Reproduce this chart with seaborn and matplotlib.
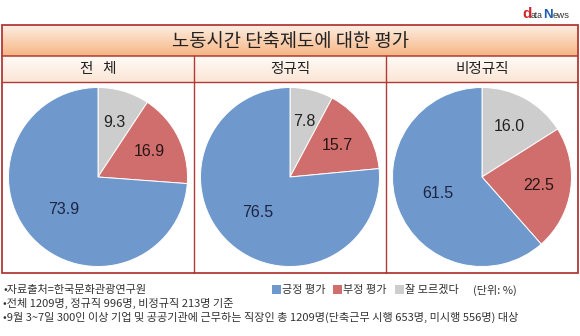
import numpy as np
import pandas as pd
import matplotlib
matplotlib.use("Agg")
import matplotlib.pyplot as plt
import seaborn as sns
from matplotlib.patches import Rectangle
from matplotlib.colors import LinearSegmentedColormap

# ---- data ----
title = "노동시간 단축제도에 대한 평가"
groups = ["전   체", "정규직", "비정규직"]
categories = ["긍정 평가", "부정 평가", "잘 모르겠다"]
positive = [73.9, 76.5, 61.5]
negative = [16.9, 15.7, 22.5]
unknown = [9.3, 7.8, 16.0]
unit_label = "(단위: %)"
notes = [
    "•자료출처=한국문화관광연구원",
    "•전체 1209명, 정규직 996명, 비정규직 213명 기준",
    "•9월 3~7일 300인 이상 기업 및 공공기관에 근무하는 직장인 총 1209명(단축근무 시행 653명, 미시행 556명) 대상",
]

df = pd.DataFrame({"group": groups, "긍정 평가": positive, "부정 평가": negative, "잘 모르겠다": unknown})

sns.set_theme(style="white")
plt.rcParams['font.family'] = ['Noto Sans CJK KR', 'DejaVu Sans']

palette = dict(zip(categories, sns.color_palette(["#6f98cc", "#cf6e6c", "#cdcdcd"])))
label_colors = {"긍정 평가": "#1c2544", "부정 평가": "#2a1616", "잘 모르겠다": "#222222"}

W, H = 580, 336
fig = plt.figure(figsize=(W / 100, H / 100), dpi=100)
fig.patch.set_facecolor("white")

bg = fig.add_axes([0, 0, 1, 1])
bg.set_xlim(0, W)
bg.set_ylim(H, 0)
bg.axis("off")

border = "#b23a36"
left, right = 2, 578
top, band_bot, sub_bot, bottom = 25, 56, 82, 273

def gradient(x0, x1, y0, y1, c_top, c_bot, z=0):
    cmap = LinearSegmentedColormap.from_list("g", [c_top, c_bot])
    g = np.linspace(0, 1, 64).reshape(-1, 1)
    bg.imshow(g, cmap=cmap, extent=[x0, x1, y1, y0], aspect="auto", zorder=z)

gradient(left, right, top, band_bot, "#fdeee2", "#f6b583")
gradient(left, right, band_bot, sub_bot, "#fffaf6", "#fbe6d6")
bg.set_xlim(0, W)
bg.set_ylim(H, 0)

bg.add_patch(Rectangle((left, top), right - left, bottom - top, fill=False, ec=border, lw=1.3, zorder=5))
bg.plot([left, right], [band_bot, band_bot], color=border, lw=1.1, zorder=5)
bg.plot([left, right], [sub_bot, sub_bot], color=border, lw=1.0, zorder=5)
panel_w = (right - left) / 3
for i in range(1, 3):
    x = left + panel_w * i
    bg.plot([x, x], [band_bot, bottom], color=border, lw=1.0, zorder=5)

bg.text(W / 2, (top + band_bot) / 2 + 1, title, ha="center", va="center", fontsize=13.5, color="#222222", zorder=6)

for i, g in enumerate(groups):
    cx = left + panel_w * (i + 0.5)
    bg.text(cx, (band_bot + sub_bot) / 2 + 0.5, g, ha="center", va="center", fontsize=10.5, color="#222222", zorder=6)

# logo
bg.text(522, 18, "d", fontsize=11, fontweight="bold", color="#d0262a", ha="left", va="baseline", family="Liberation Sans")
bg.text(530.5, 18, "ata", fontsize=6.2, color="#333333", ha="left", va="baseline", family="Liberation Sans")
bg.text(543, 18, "N", fontsize=9.5, fontweight="bold", color="#1f5fb0", ha="left", va="baseline", family="Liberation Sans")
bg.text(553, 18, "ews", fontsize=6.8, color="#333333", ha="left", va="baseline", family="Liberation Sans")

# pies
R = 89.5
cy = 177
for i, row in df.iterrows():
    cx = left + panel_w * (i + 0.5)
    ax = fig.add_axes([(cx - R) / W, (H - cy - R) / H, 2 * R / W, 2 * R / H])
    vals = [row["잘 모르겠다"], row["부정 평가"], row["긍정 평가"]]
    cats = ["잘 모르겠다", "부정 평가", "긍정 평가"]
    wedges, _ = ax.pie(vals, colors=[palette[c] for c in cats], startangle=90, counterclock=False,
                       radius=1, wedgeprops=dict(edgecolor="white", linewidth=0.7))
    total = sum(vals)
    start = 90
    for v, c in zip(vals, cats):
        ang = start - v / total * 360 / 2
        start -= v / total * 360
        d = 0.53 if c == "긍정 평가" else 0.64
        ax.text(d * np.cos(np.radians(ang)), d * np.sin(np.radians(ang)), f"{v:.1f}",
                ha="center", va="center", fontsize=11.5, color=label_colors[c], family="Liberation Sans")
    ax.set_xlim(-1, 1)
    ax.set_ylim(-1, 1)
    ax.set_aspect("equal")
    ax.axis("off")

# footnotes
for k, n in enumerate(notes):
    bg.text(3, 290 + k * 13.5, n, ha="left", va="center", fontsize=8.0, color="#333333")

# legend
lx = [272, 333, 395]
for x, c in zip(lx, categories):
    bg.add_patch(Rectangle((x, 285), 9, 9, fc=palette[c], ec="none"))
    bg.text(x + 10, 290, c, ha="left", va="center", fontsize=8.0, color="#333333")
bg.text(473, 290, unit_label, ha="left", va="center", fontsize=8.0, color="#333333")

fig.savefig("out.png", dpi=100, facecolor="white")
